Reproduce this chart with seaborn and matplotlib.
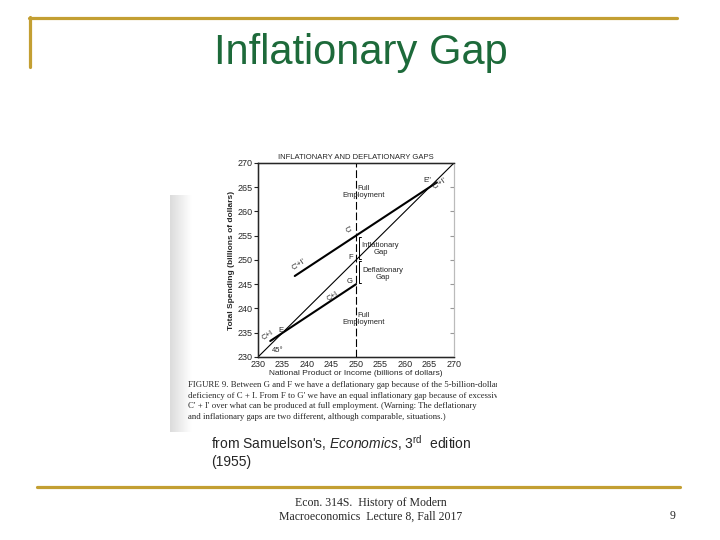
import numpy as np
import pandas as pd
import matplotlib.pyplot as plt
import seaborn as sns

sns.set_style("white")
plt.rcParams["font.family"] = ["Liberation Sans", "DejaVu Sans"]
plt.rcParams["mathtext.fontset"] = "custom"
plt.rcParams["mathtext.rm"] = "Liberation Sans"
plt.rcParams["mathtext.it"] = "Liberation Sans:italic"

# axis ticks (billions of dollars)
ticks = [230, 235, 240, 245, 250, 255, 260, 265, 270]

# 45 degree line
line45_x = [230, 270]
line45_y = [230, 270]
# C + I schedule, through E up to G
ci_x = [232.5, 250]
ci_y = [233.3, 245]
# C' + I' schedule, through G' up to E''
cpi_x = [237.5, 266.5]
cpi_y = [246.7, 266.0]

full_emp = 250
gap_def = [245, 250]
gap_inf = [250, 255]

gold = "#C39F32"
green = "#1D6A3A"

fig = plt.figure(figsize=(7.2, 5.4), dpi=100)
W, H = 720, 540


def fx(px):
    return px / W


def fy(py):
    return 1 - py / H


# slide frame lines
fig.add_artist(plt.Line2D([fx(29), fx(677)], [fy(18), fy(18)], color=gold, lw=2.3))
fig.add_artist(plt.Line2D([fx(30), fx(30)], [fy(17), fy(67)], color=gold, lw=2.3))
fig.add_artist(plt.Line2D([fx(37), fx(680)], [fy(487), fy(487)], color=gold, lw=2.3))

fig.text(0.5015, fy(53), "Inflationary Gap", color=green, fontsize=30,
         ha="center", va="center")

# grey edge of the scanned page
strip = fig.add_axes([fx(170), fy(432), fx(22), (432 - 195) / H])
grad = np.tile(np.linspace(0.86, 1.0, 50), (10, 1))
strip.imshow(grad, cmap="gray", vmin=0, vmax=1, aspect="auto")
strip.axis("off")

# main chart
ax = fig.add_axes([fx(258), fy(357), fx(196), 194 / H])
df45 = pd.DataFrame({"x": line45_x, "y": line45_y})
dfci = pd.DataFrame({"x": ci_x, "y": ci_y})
dfcpi = pd.DataFrame({"x": cpi_x, "y": cpi_y})
sns.lineplot(data=df45, x="x", y="y", color="black", lw=0.8, ax=ax)
sns.lineplot(data=dfci, x="x", y="y", color="black", lw=1.5, ax=ax)
sns.lineplot(data=dfcpi, x="x", y="y", color="black", lw=1.5, ax=ax)
ax.axvline(full_emp, color="black", lw=0.8, dashes=(7, 2.5))

# gap brackets
bx = full_emp + 0.6
for lo, hi in (gap_def, gap_inf):
    ax.plot([bx + 0.5, bx, bx, bx + 0.5], [lo + 0.3, lo + 0.3, hi - 0.3, hi - 0.3],
            color="black", lw=0.7)

ax.set_xlim(230, 270)
ax.set_ylim(230, 270)
ax.set_xticks(ticks)
ax.set_yticks(ticks)
ax.tick_params(axis="x", direction="in", length=3, labelsize=6.5, pad=2)
ax.tick_params(axis="y", direction="out", length=3, labelsize=6.5, pad=1, left=True)
for s in ("left", "bottom", "top"):
    ax.spines[s].set_color("black")
    ax.spines[s].set_linewidth(1.0)
ax.spines["right"].set_color("#bbbbbb")
ax.spines["right"].set_linewidth(0.8)

# faint inward ticks on the right edge
axr = ax.twinx()
axr.set_ylim(230, 270)
axr.set_yticks(ticks)
axr.tick_params(axis="y", direction="in", length=3, color="#999999", labelright=False)
axr.spines["right"].set_color("#bbbbbb")
axr.spines["right"].set_linewidth(0.8)

ax.set_xlabel("National Product or Income (billions of dollars)", fontsize=6, labelpad=1)
ax.set_ylabel("Total Spending (billions of dollars)", fontsize=6, labelpad=2,
              fontweight="bold")
ax.set_title("INFLATIONARY AND DEFLATIONARY GAPS", fontsize=5.5, pad=3)

fs = 5.5
ax.text(251.5, 264, "Full\nEmployment", fontsize=fs, ha="center", va="center",
        linespacing=1.0)
ax.text(251.5, 237.9, "Full\nEmployment", fontsize=fs, ha="center", va="center",
        linespacing=1.0)
ax.text(255, 252.3, "Inflationary\nGap", fontsize=fs, ha="center", va="center",
        linespacing=1.0)
ax.text(255.5, 247.2, "Deflationary\nGap", fontsize=fs, ha="center", va="center",
        linespacing=1.0)
ax.text(248.8, 256.2, "C'", fontsize=fs, ha="center", va="center", rotation=33)
ax.text(249.0, 250.6, "F", fontsize=fs, ha="center", va="center")
ax.text(248.8, 245.6, "G", fontsize=fs, ha="center", va="center")
ax.text(234.6, 235.5, "E", fontsize=fs, ha="center", va="center")
ax.text(264.6, 266.4, "E''", fontsize=fs, ha="center", va="center")
ax.text(234.0, 231.3, "45°", fontsize=fs, ha="center", va="center")
ax.text(245.2, 242.6, "C+I", fontsize=fs, ha="center", va="center", rotation=34)
ax.text(232.0, 234.4, "C+I", fontsize=fs, ha="center", va="center", rotation=34)
ax.text(238.4, 249.0, "C'+I'", fontsize=fs, ha="center", va="center", rotation=34)
ax.text(267.2, 265.8, "C'+I'", fontsize=fs, ha="center", va="center", rotation=34)

# caption of the scanned figure, cut off at the right edge like the scan
cap = fig.add_axes([fx(186), fy(430), fx(311), 50 / H])
cap.axis("off")
caption = ("FIGURE 9. Between G and F we have a deflationary gap because of the 5-billion-dollar\n"
           "deficiency of C + I. From F to G' we have an equal inflationary gap because of excessive\n"
           "C' + I' over what can be produced at full employment. (Warning: The deflationary\n"
           "and inflationary gaps are two different, although comparable, situations.)")
cap.text(0.005, 0.98, caption, fontsize=6.35, family="Liberation Serif", va="top",
         ha="left", linespacing=1.45, clip_on=True, transform=cap.transAxes)

fig.text(fx(211), fy(443), r"from Samuelson's, $\it{Economics}$, 3$^{\rm rd}$  edition",
         fontsize=10, va="center", ha="left")
fig.text(fx(211), fy(462), "(1955)", fontsize=10, va="center", ha="left")

fig.text(fx(371), fy(510), "Econ. 314S.  History of Modern\nMacroeconomics  Lecture 8, Fall 2017",
         fontsize=8.5, family="Liberation Serif", ha="center", va="center", linespacing=1.25)
fig.text(fx(673), fy(516), "9", fontsize=8.5, family="Liberation Serif", ha="center",
         va="center")

plt.savefig("out.png", dpi=100)
